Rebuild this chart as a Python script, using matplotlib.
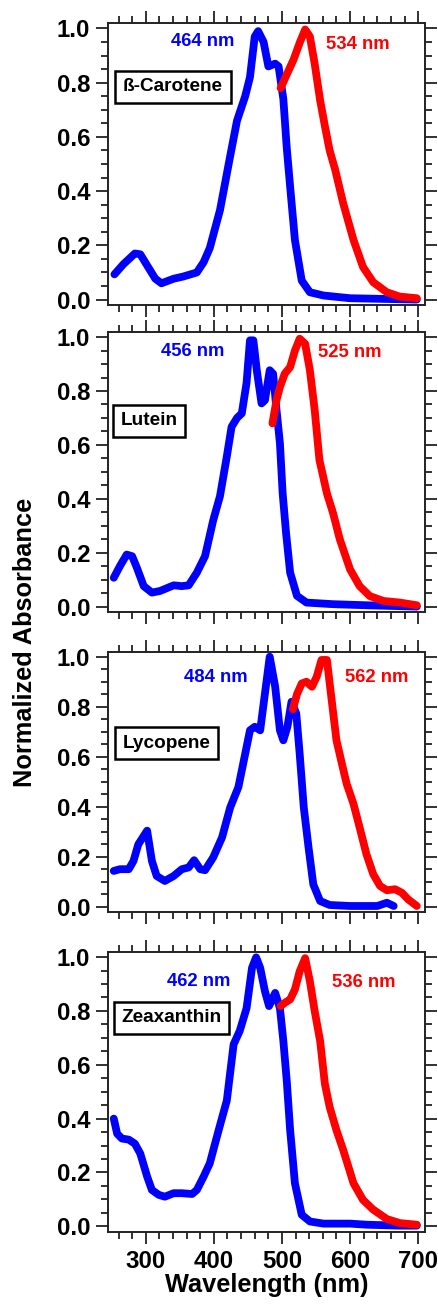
import matplotlib
matplotlib.use('Agg')
import matplotlib.pyplot as plt
from matplotlib.ticker import MultipleLocator

plt.rcParams['font.family'] = ['Liberation Sans', 'DejaVu Sans']
plt.rcParams['font.weight'] = 'bold'

# ---------------- data ----------------
names = ['ß-Carotene', 'Lutein', 'Lycopene', 'Zeaxanthin']
abs_peaks = ['464 nm', '456 nm', '484 nm', '462 nm']
em_peaks = ['534 nm', '525 nm', '562 nm', '536 nm']

# beta-carotene
car_abs_wl = [254, 267, 284, 292, 301, 314, 323, 341, 355, 375, 385, 394, 409, 424, 434, 446, 453,
              460, 465, 473, 480, 490, 495, 502, 507, 512, 519, 529, 541, 561, 600, 649, 698]
car_abs = [0.093, 0.13, 0.17, 0.167, 0.13, 0.077, 0.06, 0.077, 0.085, 0.10, 0.138, 0.19, 0.33, 0.53,
           0.66, 0.75, 0.82, 0.97, 0.99, 0.95, 0.86, 0.87, 0.86, 0.74, 0.56, 0.416, 0.22, 0.07, 0.027,
           0.015, 0.005, 0.0025, 0.0]
car_em_wl = [498, 507, 517, 526, 534, 541, 548, 556, 563, 570, 578, 590, 605, 619, 634, 654, 673, 698]
car_em = [0.78, 0.83, 0.885, 0.947, 0.996, 0.97, 0.87, 0.735, 0.64, 0.55, 0.48, 0.354, 0.22, 0.12,
          0.064, 0.027, 0.011, 0.005]

# lutein
lut_abs_wl = [253, 262, 272, 280, 287, 297, 309, 321, 341, 353, 363, 375, 387, 399, 409, 419, 426,
              434, 441, 448, 453, 458, 463, 470, 475, 482, 487, 492, 497, 501, 506, 512, 522, 536,
              575, 624, 698]
lut_abs = [0.107, 0.15, 0.193, 0.187, 0.144, 0.076, 0.052, 0.058, 0.079, 0.076, 0.079, 0.126, 0.187,
           0.32, 0.41, 0.557, 0.667, 0.70, 0.717, 0.83, 0.988, 0.988, 0.877, 0.754, 0.766, 0.877,
           0.864, 0.73, 0.606, 0.42, 0.273, 0.126, 0.04, 0.015, 0.009, 0.005, 0.0]
lut_em_wl = [486, 492, 497, 504, 512, 519, 526, 534, 541, 548, 555, 566, 575, 585, 600, 614, 629,
             649, 673, 698]
lut_em = [0.68, 0.766, 0.815, 0.864, 0.889, 0.95, 0.994, 0.975, 0.877, 0.73, 0.544, 0.42, 0.347,
          0.249, 0.138, 0.076, 0.039, 0.021, 0.015, 0.005]

# lycopene
lyc_abs_wl = [253, 262, 275, 282, 289, 302, 309, 316, 328, 341, 353, 363, 371, 380, 387, 399, 412,
              424, 436, 446, 453, 460, 468, 475, 482, 490, 497, 502, 508, 514, 521, 526, 532, 539,
              546, 556, 570, 600, 624, 640, 654, 664]
lyc_abs = [0.144, 0.151, 0.151, 0.184, 0.25, 0.305, 0.184, 0.124, 0.104, 0.124, 0.151, 0.158, 0.187,
           0.151, 0.147, 0.198, 0.278, 0.398, 0.479, 0.612, 0.706, 0.72, 0.706, 0.853, 1.0, 0.88,
           0.706, 0.666, 0.72, 0.82, 0.773, 0.612, 0.398, 0.238, 0.09, 0.024, 0.008, 0.004, 0.004,
           0.004, 0.017, 0.004]
lyc_em_wl = [516, 522, 529, 536, 544, 551, 558, 566, 573, 580, 588, 595, 605, 614, 624, 634, 644,
             654, 666, 676, 685, 698]
lyc_em = [0.79, 0.85, 0.893, 0.90, 0.88, 0.92, 0.987, 0.987, 0.826, 0.666, 0.572, 0.492, 0.412,
          0.318, 0.211, 0.131, 0.084, 0.067, 0.071, 0.057, 0.031, 0.004]

# zeaxanthin
zea_abs_wl = [253, 258, 265, 275, 284, 292, 302, 309, 319, 328, 341, 353, 368, 375, 385, 394, 407,
              419, 429, 438, 448, 456, 462, 468, 475, 481, 490, 497, 502, 507, 512, 519, 529, 541,
              561, 600, 624, 673, 698]
zea_abs = [0.40, 0.344, 0.326, 0.322, 0.307, 0.27, 0.185, 0.135, 0.117, 0.11, 0.123, 0.123, 0.12,
           0.135, 0.185, 0.234, 0.357, 0.467, 0.676, 0.726, 0.81, 0.96, 0.999, 0.96, 0.873, 0.818,
           0.867, 0.81, 0.689, 0.541, 0.357, 0.16, 0.043, 0.018, 0.01, 0.01, 0.006, 0.0025, 0.0025]
zea_em_wl = [498, 504, 512, 519, 526, 534, 541, 548, 556, 563, 570, 580, 590, 605, 619, 634, 654,
             673, 698]
zea_em = [0.818, 0.83, 0.843, 0.88, 0.947, 0.996, 0.91, 0.80, 0.689, 0.529, 0.443, 0.357, 0.283,
          0.16, 0.098, 0.062, 0.027, 0.012, 0.006]

absorb = [(car_abs_wl, car_abs), (lut_abs_wl, lut_abs), (lyc_abs_wl, lyc_abs), (zea_abs_wl, zea_abs)]
emit = [(car_em_wl, car_em), (lut_em_wl, lut_em), (lyc_em_wl, lyc_em), (zea_em_wl, zea_em)]

# text positions (data coords) per panel
abs_txt = [(383, 0.95), (369, 0.945), (403, 0.917), (377, 0.91)]
em_txt = [(612, 0.94), (600, 0.942), (639, 0.917), (620, 0.905)]
name_txt = [(340, 0.784), (305, 0.69), (331, 0.655), (338, 0.775)]

# ---------------- figure ----------------
W, H = 438, 1308
fig = plt.figure(figsize=(W / 100, H / 100), dpi=100)

# axes boxes in pixels: (top, bottom)
boxes = [(23, 305), (331.7, 612), (651.7, 912), (951.7, 1231.7)]
left, right = 108.3, 425

for i in range(4):
    top, bot = boxes[i]
    ax = fig.add_axes([left / W, 1 - bot / H, (right - left) / W, (bot - top) / H])
    ax.plot(absorb[i][0], absorb[i][1], color='blue', lw=5.6, solid_capstyle='round', solid_joinstyle='round')
    ax.plot(emit[i][0], emit[i][1], color='red', lw=5.6, solid_capstyle='round', solid_joinstyle='round')
    ax.set_xlim(245, 710)
    ax.set_ylim(-0.02, 1.02)
    ax.xaxis.set_major_locator(MultipleLocator(100))
    ax.xaxis.set_minor_locator(MultipleLocator(20))
    ax.yaxis.set_major_locator(MultipleLocator(0.2))
    ax.yaxis.set_minor_locator(MultipleLocator(0.05))
    ax.yaxis.set_major_formatter(matplotlib.ticker.FormatStrFormatter('%.1f'))
    ax.tick_params(which='both', direction='out', top=True, right=True, width=1.3, color='#222222')
    ax.tick_params(which='major', length=8.5, pad=4.5, labelsize=17.3)
    ax.tick_params(which='minor', length=5)
    for s in ax.spines.values():
        s.set_linewidth(1.4)
        s.set_color('#222222')
    if i < 3:
        ax.tick_params(labelbottom=False)
    for lab in ax.get_xticklabels() + ax.get_yticklabels():
        lab.set_fontweight('bold')

    ax.text(abs_txt[i][0], abs_txt[i][1], abs_peaks[i], color='blue', fontsize=13.3,
            fontweight='bold', ha='center', va='center')
    ax.text(em_txt[i][0], em_txt[i][1], em_peaks[i], color='red', fontsize=13.3,
            fontweight='bold', ha='center', va='center')
    ax.text(name_txt[i][0], name_txt[i][1], names[i], color='black', fontsize=13.7,
            fontweight='bold', ha='center', va='center',
            bbox=dict(boxstyle='square,pad=0.4', fc='white', ec='black', lw=1.8))

    if i == 3:
        ax.set_xlabel('Wavelength (nm)', fontsize=18.3, fontweight='bold', labelpad=0)

fig.text(25 / W, 1 - 642 / H, 'Normalized Absorbance', rotation=90, fontsize=18.3,
         fontweight='bold', ha='center', va='center')

fig.savefig('out.png', dpi=100)
